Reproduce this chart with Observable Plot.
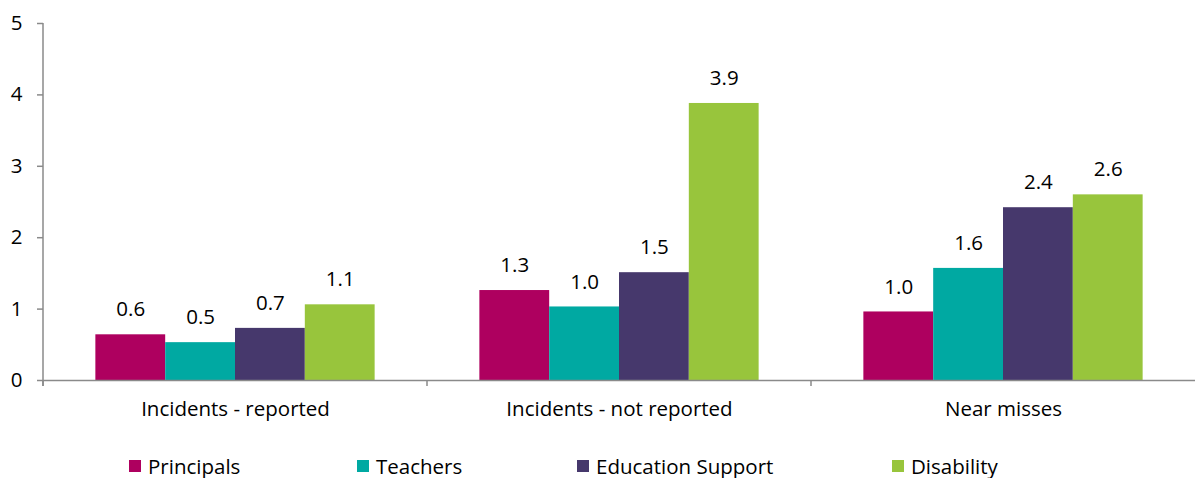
<!DOCTYPE html>
<html>
<head>
<meta charset="utf-8">
<script src="https://cdn.jsdelivr.net/npm/d3@7"></script>
<script src="https://cdn.jsdelivr.net/npm/@observablehq/plot@0.6"></script>
<style>
  body { margin: 0; background: #fff; font-family: "Open Sans", sans-serif; }
  #wrap { width: 1195px; position: relative; }
  #legend { position: relative; height: 38px; font-size: 20.5px; color: #000; }
  .item { position: absolute; top: 26px; display: flex; align-items: center; white-space: nowrap; }
  .sw { width: 12px; height: 12px; margin-right: 7px; }
</style>
</head>
<body>
<div id="wrap">
  <div id="chart"></div>
  <div id="legend"></div>
</div>
<script>
const groups = ["Incidents - reported", "Incidents - not reported", "Near misses"];
const seriesNames = ["Principals", "Teachers", "Education Support", "Disability"];
const colors = ["#AE005F", "#00A9A2", "#46386C", "#98C53C"];
const principals = [0.64, 1.26, 0.96];
const teachers = [0.53, 1.03, 1.57];
const educationSupport = [0.73, 1.51, 2.42];
const disability = [1.06, 3.88, 2.60];
const yTicks = [0, 1, 2, 3, 4, 5];
const legendLeft = [129, 357, 577, 892];

const seriesValues = [principals, teachers, educationSupport, disability];
const data = [];
groups.forEach((g, gi) => {
  seriesNames.forEach((s, si) => {
    data.push({group: g, series: s, value: seriesValues[si][gi]});
  });
});

const axisGray = "#8a8a8a";
const fs = 20.5;

// group-boundary tick at the left edge of each facet
function boundaryTick(index, scales) {
  const y0 = scales.y(0);
  const xb = scales.fx(groups[0]);
  const g = d3.create("svg:g").attr("stroke", axisGray).attr("stroke-width", 1.5);
  g.append("line").attr("x1", xb).attr("x2", xb).attr("y1", y0).attr("y2", y0 + 6);
  return g.node();
}

const chart = Plot.plot({
  width: 1195,
  height: 440,
  marginLeft: 43,
  marginRight: 0,
  marginTop: 23,
  marginBottom: 60,
  style: {fontFamily: "'Open Sans', sans-serif", fontSize: fs + "px", color: "#000", background: "#fff"},
  fx: {domain: groups, padding: 0, label: null},
  x: {domain: seriesNames, paddingInner: 0, paddingOuter: 0.75, round: false, axis: null},
  y: {domain: [0, 5], label: null},
  color: {domain: seriesNames, range: colors},
  marks: [
    Plot.barY(data, {fx: "group", x: "series", y: "value", fill: "series"}),
    Plot.text(data, {fx: "group", x: "series", y: "value", text: d => d3.format(".1f")(d.value), dy: -25, lineAnchor: "middle", fill: "#000", fontSize: fs}),
    Plot.ruleY([0], {stroke: axisGray, strokeWidth: 1.5}),
    boundaryTick,
    Plot.axisY({ticks: yTicks, tickSize: 6, tickPadding: 15, tickFormat: d3.format("d"), stroke: axisGray, strokeWidth: 1.5, fill: "#000", fontSize: fs, label: null}),
    Plot.axisFx({anchor: "bottom", tickSize: 0, tickPadding: 21, fill: "#000", fontSize: fs, label: null})
  ]
});

// y-axis line, placed through the plot's own fx and y scales
const fxS = chart.scale("fx"), yS = chart.scale("y");
const xAxisLine = fxS.apply(groups[0]);
d3.select(chart).append("line")
  .attr("x1", xAxisLine).attr("x2", xAxisLine)
  .attr("y1", yS.apply(yTicks[yTicks.length - 1])).attr("y2", yS.apply(0) + 6)
  .attr("stroke", axisGray).attr("stroke-width", 1.5);

document.getElementById("chart").appendChild(chart);

const legend = document.getElementById("legend");
seriesNames.forEach((s, i) => {
  const item = document.createElement("div");
  item.className = "item";
  item.style.left = legendLeft[i] + "px";
  item.style.transform = "translateY(-50%)";
  const sw = document.createElement("span");
  sw.className = "sw";
  sw.style.background = colors[i];
  const t = document.createElement("span");
  t.textContent = s;
  item.appendChild(sw);
  item.appendChild(t);
  legend.appendChild(item);
});
</script>
</body>
</html>
